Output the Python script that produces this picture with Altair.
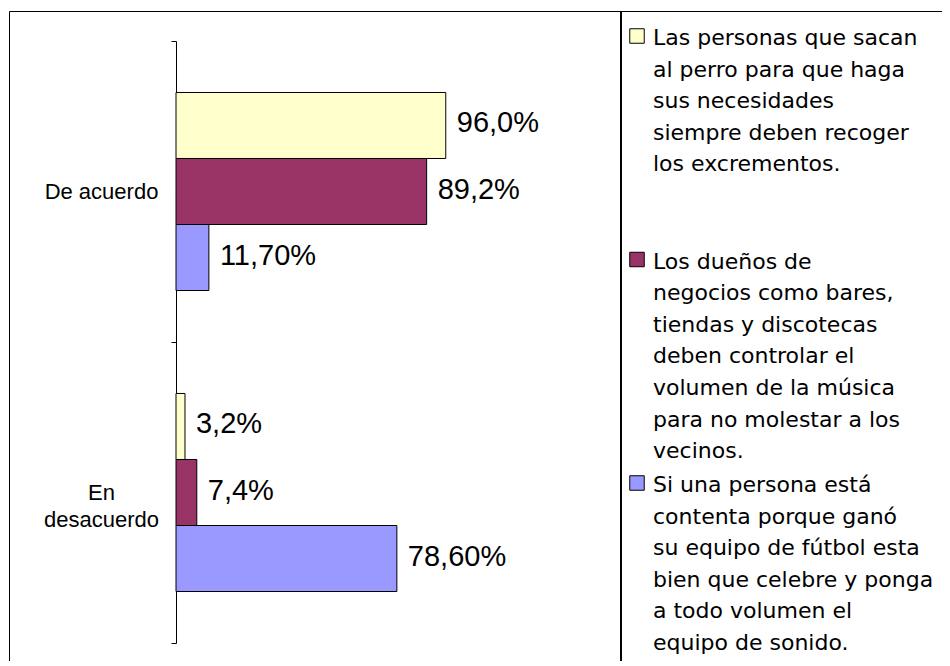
import altair as alt
import pandas as pd

# ---- data ----
categories = ["De acuerdo", "En\ndesacuerdo"]
series_lines = [
    ["Las personas que sacan", "al perro para que haga", "sus necesidades",
     "siempre deben recoger", "los excrementos."],
    ["Los dueños de", "negocios como bares,", "tiendas y discotecas",
     "deben controlar el", "volumen de la música", "para no molestar a los",
     "vecinos."],
    ["Si una persona está", "contenta porque ganó", "su equipo de fútbol esta",
     "bien que celebre y ponga", "a todo volumen el", "equipo de sonido."],
]
series = ["\n".join(lines) for lines in series_lines]
colors = ["#FFFFCC", "#993366", "#9999FF"]

values_de_acuerdo = [96.0, 89.2, 11.7]
values_en_desacuerdo = [3.2, 7.4, 78.6]
labels_de_acuerdo = ["96,0%", "89,2%", "11,70%"]
labels_en_desacuerdo = ["3,2%", "7,4%", "78,60%"]

rows = []
for cat, vals, labs in [
    (categories[0], values_de_acuerdo, labels_de_acuerdo),
    (categories[1], values_en_desacuerdo, labels_en_desacuerdo),
]:
    for s, v, l in zip(series, vals, labs):
        rows.append({"categoria": cat, "serie": s, "valor": v, "etiqueta": l})
df = pd.DataFrame(rows)
legend_df = pd.DataFrame({"serie": series})

# ---- chart ----
W, H = 933, 650

y_scale = alt.Scale(domain=categories, range=[30, 632],
                    paddingInner=0, paddingOuter=0)
y_axis = alt.Axis(
    title=None, offset=-167, tickBand="extent", grid=False,
    domainColor="black", domainWidth=1, tickColor="black", tickSize=5,
    tickWidth=1, labelFont="Liberation Sans", labelFontSize=22,
    labelColor="black", labelAlign="center", labelPadding=70,
    labelLineHeight=27, labelExpr="split(datum.label, '\\n')",
)
y_enc = alt.Y("categoria:N", sort=categories, scale=y_scale, axis=y_axis)
x_enc = alt.X("valor:Q", scale=alt.Scale(domain=[0, 100], range=[167, 448]),
              axis=None)
yoff = alt.YOffset("serie:N", sort=series,
                   scale=alt.Scale(domain=series, paddingInner=0, paddingOuter=0.78))
color_enc = alt.Color("serie:N", sort=series,
                      scale=alt.Scale(domain=series, range=colors), legend=None)

bars = alt.Chart(df).mark_bar(stroke="black", strokeWidth=1).encode(
    x=x_enc, y=y_enc, yOffset=yoff, color=color_enc
)

texts = alt.Chart(df).mark_text(
    align="left", baseline="middle", dx=11, dy=-2,
    font="Liberation Sans", fontSize=29, color="black"
).encode(x=x_enc, y=y_enc, yOffset=yoff, text="etiqueta:N")

divider = alt.Chart(df).mark_rule(color="black", strokeWidth=1).encode(
    x=alt.value(612), y=alt.value(0), y2=alt.value(H)
)

main = alt.layer(bars, texts, divider).resolve_scale(y="shared")

# ---- legend (drawn as marks so the line spacing can match) ----
leg_y = alt.Y("serie:N", sort=series,
              scale=alt.Scale(type="point", domain=series, range=[25, 472], padding=0),
              axis=None)

leg_sym = alt.Chart(legend_df).mark_point(
    shape="square", size=210, filled=True, stroke="black", strokeWidth=1, opacity=1
).encode(x=alt.value(628), y=leg_y, color=color_enc)

leg_txt = alt.Chart(legend_df).mark_text(
    align="left", baseline="top", dy=-8, lineBreak="\n", lineHeight=31.6,
    font="DejaVu Sans", fontSize=22, color="black"
).encode(x=alt.value(644), y=leg_y, text="serie:N")

legend_layer = alt.layer(leg_sym, leg_txt)

chart = alt.layer(main, legend_layer).resolve_scale(
    y="independent"
).properties(
    width=W, height=H,
    padding={"left": 1, "top": 3, "right": 0, "bottom": 0},
    autosize=alt.AutoSizeParams(type="none"),
    background="white",
).configure_view(stroke="black", strokeWidth=1)

chart.save("out.html", embed_options={"renderer": "svg", "actions": False})
